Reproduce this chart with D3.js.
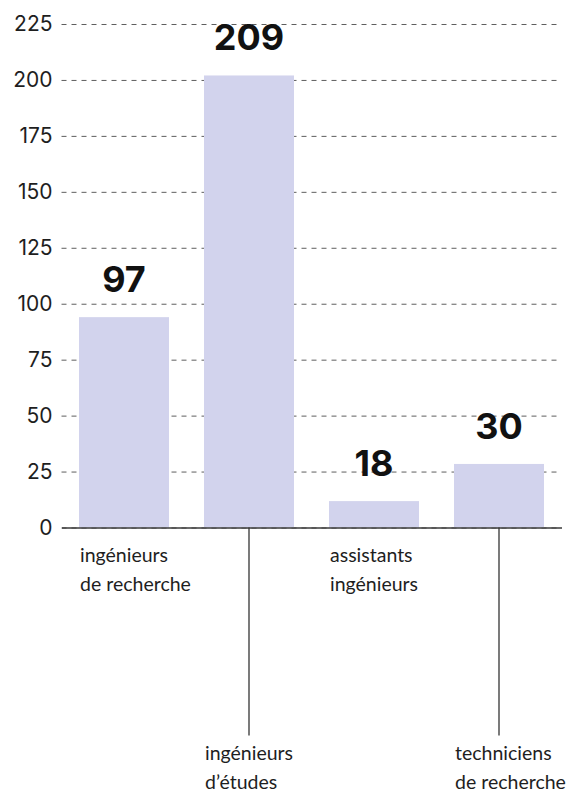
<!DOCTYPE html>
<html>
<head>
<meta charset="utf-8">
<script src="https://cdn.jsdelivr.net/npm/d3@7"></script>
<style>
  body { margin: 0; background: #fff; }
  svg { display: block; }
</style>
</head>
<body>
<div id="chart"></div>
<script>
// categories, each split on two lines
var categories = ["ingénieurs de recherche", "ingénieurs d’études", "assistants ingénieurs", "techniciens de recherche"];
var categoryLines = [["ingénieurs", "de recherche"], ["ingénieurs", "d’études"], ["assistants", "ingénieurs"], ["techniciens", "de recherche"]];
// bar heights as read against the drawn axis
var barValues = [94, 202, 11.8, 28.4];
// numbers printed above the bars
var valueLabels = ["97", "209", "18", "30"];
var yTicks = [0, 25, 50, 75, 100, 125, 150, 175, 200, 225];

(function () {
    var W = 571, H = 791;
    var plotLeft = 61.5, plotRight = 561.5, plotTop = 24, plotBase = 527.5;

    var svg = d3.select("#chart").append("svg")
        .attr("width", W)
        .attr("height", H);

    var x = d3.scaleBand()
        .domain(categories)
        .range([plotLeft, plotRight])
        .paddingInner(0.28)
        .paddingOuter(0.14);

    var y = d3.scaleLinear()
        .domain([0, 225])
        .range([plotBase, plotTop]);

    // dashed grid + y labels
    var yAxis = svg.append("g")
        .attr("transform", "translate(" + plotLeft + ",0)")
        .call(d3.axisLeft(y).tickValues(yTicks).tickSize(-(plotRight - plotLeft)).tickPadding(9));
    yAxis.select(".domain").remove();
    yAxis.selectAll(".tick line")
        .attr("stroke", "#5e5e5e")
        .attr("stroke-dasharray", "5,5")
        .attr("stroke-width", 1);
    yAxis.selectAll(".tick text")
        .attr("fill", "#1e1e1e")
        .style("font-family", "Inter, sans-serif")
        .style("font-size", "21px");

    // bars
    svg.selectAll("rect.bar")
        .data(barValues)
        .enter().append("rect")
        .attr("class", "bar")
        .attr("x", function (d, i) { return x(categories[i]); })
        .attr("y", function (d) { return y(d); })
        .attr("width", x.bandwidth())
        .attr("height", function (d) { return y(0) - y(d); })
        .attr("fill", "#d2d3ed");

    // value labels
    svg.selectAll("text.val")
        .data(barValues)
        .enter().append("text")
        .attr("class", "val")
        .attr("x", function (d, i) { return x(categories[i]) + x.bandwidth() / 2; })
        .attr("y", function (d) { return y(d) - 25; })
        .attr("text-anchor", "middle")
        .style("font-family", "Inter, sans-serif")
        .style("font-weight", 700)
        .style("font-size", "36px")
        .attr("fill", "#111")
        .text(function (d, i) { return valueLabels[i]; });

    // x axis: every second label drops down on a long tick
    var longTick = 208;
    var xAxis = svg.append("g")
        .attr("transform", "translate(0," + plotBase + ")")
        .call(d3.axisBottom(x).tickSize(0).tickFormat(""));
    xAxis.select(".domain")
        .attr("stroke", "#3a3a3a")
        .attr("stroke-width", 1.3);
    xAxis.selectAll(".tick").each(function (d, i) {
        var g = d3.select(this);
        var low = i % 2 === 1;
        g.select("line")
            .attr("y2", low ? longTick : 0)
            .attr("stroke", "#333")
            .attr("stroke-width", 1.3);
        g.select("text").remove();
        var t = g.append("text")
            .attr("y", low ? longTick + 24 : 34)
            .attr("text-anchor", "start")
            .attr("fill", "#1e1e1e")
            .style("font-family", "Lato, sans-serif")
            .style("font-size", "19.5px");
        categoryLines[i].forEach(function (line, k) {
            t.append("tspan")
                .attr("x", -x.bandwidth() / 2 + 1)
                .attr("dy", k ? 29 : 0)
                .text(line);
        });
    });
})();
</script>
</body>
</html>
